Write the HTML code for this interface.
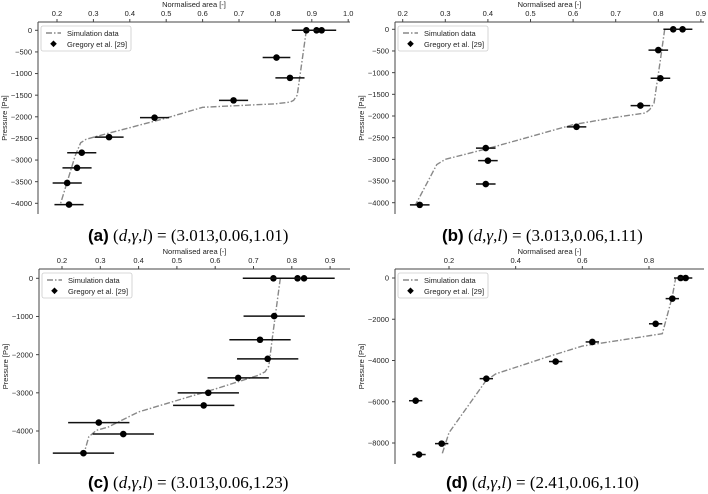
<!DOCTYPE html>
<html><head><meta charset="utf-8">
<style>
body{margin:0;background:#fff;width:708px;height:494px;overflow:hidden}
svg{position:absolute;left:0;top:0;font-family:"Liberation Sans",sans-serif}
.cap{position:absolute;font-family:"Liberation Serif",serif;font-size:17px;white-space:nowrap}
.cap b{font-family:"Liberation Sans",sans-serif;font-weight:bold}
</style></head><body>
<svg id="chart" width="708" height="494"></svg>
<div class="cap" style="left:88px;top:226px"><b>(a)</b> (<i>d</i>,<i>γ</i>,<i>l</i>) = (3.013,0.06,1.01)</div>
<div class="cap" style="left:442px;top:226px"><b>(b)</b> (<i>d</i>,<i>γ</i>,<i>l</i>) = (3.013,0.06,1.11)</div>
<div class="cap" style="left:88px;top:473px"><b>(c)</b> (<i>d</i>,<i>γ</i>,<i>l</i>) = (3.013,0.06,1.23)</div>
<div class="cap" style="left:446px;top:473px"><b>(d)</b> (<i>d</i>,<i>γ</i>,<i>l</i>) = (2.41,0.06,1.10)</div>
<script>
// Panel a
const aXTicks=[0.2,0.3,0.4,0.5,0.6,0.7,0.8,0.9,1.0];
const aYTicks=[0,-500,-1000,-1500,-2000,-2500,-3000,-3500,-4000];
const aPtsX=[0.885,0.913,0.927,0.803,0.84,0.685,0.468,0.343,0.268,0.255,0.228,0.233];
const aPtsY=[0,0,0,-630,-1100,-1620,-2020,-2470,-2830,-3180,-3530,-4030];
const aErr=[0.04,0.04,0.04,0.038,0.04,0.04,0.04,0.04,0.04,0.04,0.04,0.04];
const aSimX=[0.885,0.86,0.85,0.84,0.8,0.6,0.5,0.31,0.28,0.265,0.25,0.21];
const aSimY=[0,-1500,-1620,-1660,-1700,-1780,-2030,-2450,-2520,-2600,-2900,-4000];
// Panel b
const bXTicks=[0.2,0.3,0.4,0.5,0.6,0.7,0.8,0.9];
const bYTicks=[0,-500,-1000,-1500,-2000,-2500,-3000,-3500,-4000];
const bPtsX=[0.835,0.857,0.8,0.805,0.758,0.608,0.395,0.4,0.395,0.24];
const bPtsY=[0,0,-480,-1130,-1760,-2250,-2740,-3030,-3570,-4050];
const bErr=[0.023,0.023,0.023,0.023,0.023,0.023,0.023,0.023,0.023,0.023];
const bSimX=[0.815,0.805,0.79,0.78,0.77,0.7,0.6,0.4,0.32,0.3,0.28,0.23];
const bSimY=[0,-700,-1700,-1850,-1930,-2030,-2200,-2750,-2950,-3000,-3120,-4050];
// Panel c
const cXTicks=[0.2,0.3,0.4,0.5,0.6,0.7,0.8,0.9];
const cYTicks=[0,-1000,-2000,-3000,-4000];
const cPtsX=[0.752,0.815,0.832,0.754,0.717,0.737,0.66,0.582,0.57,0.296,0.36,0.256];
const cPtsY=[0,0,0,-990,-1610,-2110,-2610,-3000,-3330,-3780,-4080,-4580];
const cErr=[0.08,0.08,0.08,0.08,0.08,0.08,0.08,0.08,0.08,0.08,0.08,0.08];
const cSimX=[0.77,0.75,0.74,0.73,0.71,0.6,0.4,0.32,0.29,0.27,0.26];
const cSimY=[0,-1500,-2300,-2450,-2550,-2900,-3500,-3900,-3980,-4150,-4500];
// Panel d
const dXTicks=[0.2,0.4,0.6,0.8];
const dYTicks=[0,-2000,-4000,-6000,-8000];
const dPtsX=[0.1,0.11,0.178,0.312,0.52,0.63,0.82,0.87,0.895,0.91];
const dPtsY=[-5950,-8560,-8030,-4880,-4050,-3100,-2220,-1000,0,0];
const dErr=[0.02,0.02,0.02,0.02,0.02,0.02,0.02,0.02,0.02,0.02];
const dSimX=[0.18,0.2,0.31,0.34,0.5,0.6,0.84,0.87,0.88];
const dSimY=[-8500,-7500,-5000,-4650,-3800,-3300,-2700,-900,0];

const NS="http://www.w3.org/2000/svg";
const svg=document.getElementById('chart');
function mk(t,a,p){const e=document.createElementNS(NS,t);for(const k in a)e.setAttribute(k,a[k]);(p||svg).appendChild(e);return e;}

function panel(id,cfg,xt,yt,px,py,pe,sx,sy){
  const g=mk('g',{});
  
  
  const X=v=>cfg.x0+(v-cfg.v0)*cfg.kx;
  const Y=v=>cfg.y0-(v)*cfg.ky;
  const sl=mk('line',{x1:cfg.left,y1:cfg.top,x2:cfg.left,y2:cfg.bottom,stroke:'#444','stroke-width':1},g);
  
  
  const st=mk('line',{x1:cfg.left,y1:cfg.top,x2:cfg.right,y2:cfg.top,stroke:'#444','stroke-width':1},g);
  
  
  xt.forEach(v=>{
    mk('line',{x1:X(v),y1:cfg.top,x2:X(v),y2:cfg.top-3,stroke:'#444'},g);
    const t=mk('text',{x:X(v),y:cfg.top-6,'font-size':7.5,'text-anchor':'middle',fill:'#222'},g);
    t.textContent=v.toFixed(1);
    
    
  });
  yt.forEach(v=>{
    mk('line',{x1:cfg.left,y1:Y(v),x2:cfg.left-3,y2:Y(v),stroke:'#444'},g);
    const t=mk('text',{x:cfg.left-6,y:Y(v)+2.6,'font-size':7.5,'text-anchor':'end',fill:'#222'},g);
    t.textContent=v===0?'0':'\u2212'+Math.abs(v);
    
    
  });
  const xl=mk('text',{x:(cfg.left+cfg.right)/2,y:cfg.top-15,'font-size':7.5,'text-anchor':'middle',fill:'#222'},g);
  xl.textContent='Normalised area [-]';
  
  
  const ym=(cfg.top+cfg.bottom)/2;
  const yl=mk('text',{x:cfg.left-31,y:ym,'font-size':7.5,'text-anchor':'middle',fill:'#222',transform:`rotate(-90 ${cfg.left-31} ${ym})`},g);
  yl.textContent='Pressure [Pa]';
  
  
  const pts=sx.map((v,i)=>X(v)+','+Y(sy[i])).join(' ');
  const pl=mk('polyline',{points:pts,fill:'none',stroke:'#888','stroke-width':1.4,'stroke-dasharray':'6,2,1.5,2','stroke-linejoin':'round'},g);
  
  
  px.forEach((v,i)=>{
    const eb=mk('line',{x1:X(v-pe[i]),x2:X(v+pe[i]),y1:Y(py[i]),y2:Y(py[i]),stroke:'#111','stroke-width':1.5},g);
    
    
    const c=mk('circle',{cx:X(v),cy:Y(py[i]),r:3.3,fill:'#000'},g);
    
    
  });
  const lx=cfg.left+3,ly=cfg.top+4;
  const lg=mk('g',{},g);
  
  
  mk('rect',{x:lx,y:ly,width:90,height:25,rx:2,fill:'#fff',stroke:'#ccc','stroke-width':0.8},lg);
  mk('line',{x1:lx+5,x2:lx+20,y1:ly+7,y2:ly+7,stroke:'#888','stroke-width':1.4,'stroke-dasharray':'6,2,1.5,2'},lg);
  const t1=mk('text',{x:lx+26,y:ly+10,'font-size':7.5,fill:'#222'},lg);t1.textContent='Simulation data';
  
  
  mk('path',{d:`M${lx+12.5} ${ly+14.5} l3.3 3.3 l-3.3 3.3 l-3.3 -3.3 z`,fill:'#000'},lg);
  const t2=mk('text',{x:lx+26,y:ly+21,'font-size':7.5,fill:'#222'},lg);t2.textContent='Gregory et al. [29]';
  
  
}
panel('a',{left:38,right:350,top:22,bottom:214,x0:57,v0:0.2,kx:364,y0:30.3,ky:173/4000},aXTicks,aYTicks,aPtsX,aPtsY,aErr,aSimX,aSimY);
panel('b',{left:395,right:704,top:22,bottom:214,x0:402.7,v0:0.2,kx:426,y0:29.3,ky:173.4/4000},bXTicks,bYTicks,bPtsX,bPtsY,bErr,bSimX,bSimY);
panel('c',{left:39,right:350,top:269,bottom:464,x0:62,v0:0.2,kx:383,y0:278.3,ky:152.7/4000},cXTicks,cYTicks,cPtsX,cPtsY,cErr,cSimX,cSimY);
panel('d',{left:395,right:704,top:269,bottom:464,x0:449,v0:0.2,kx:333.3,y0:278,ky:165/8000},dXTicks,dYTicks,dPtsX,dPtsY,dErr,dSimX,dSimY);
</script>
</body></html>
